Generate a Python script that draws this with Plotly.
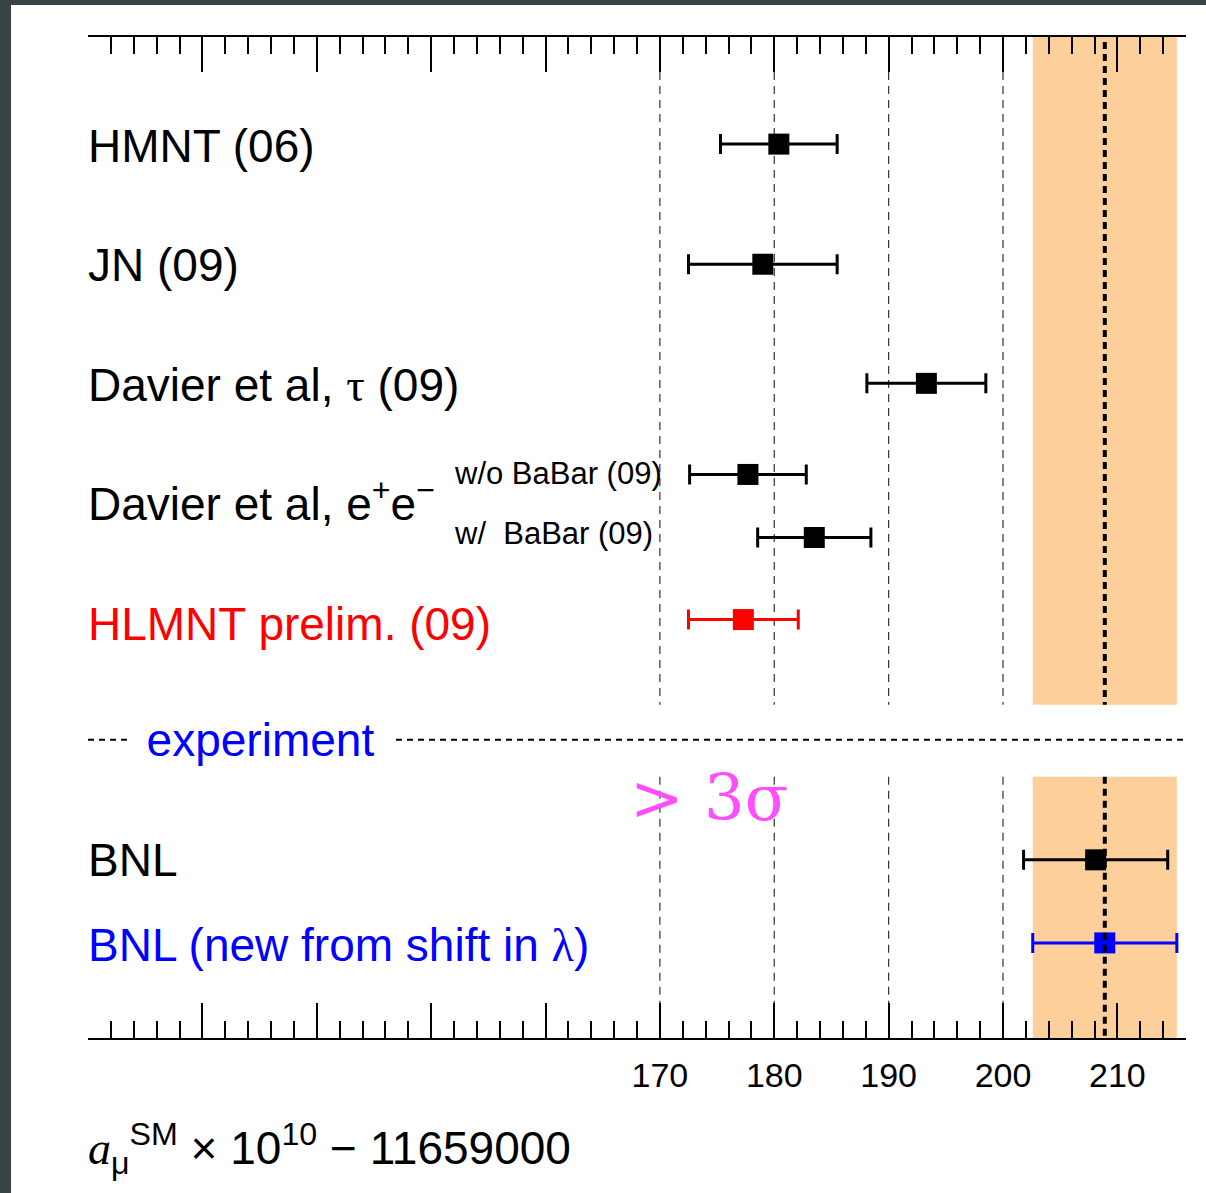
import plotly.graph_objects as go

# ---------------- data ----------------
labels = ["HMNT (06)", "JN (09)", "Davier et al, τ (09)", "w/o BaBar (09)",
          "w/  BaBar (09)", "HLMNT prelim. (09)", "BNL", "BNL (new from shift in λ)"]
values = [180.4, 179.0, 193.3, 177.7, 183.5, 177.3, 208.1, 208.9]
errors = [5.1, 6.5, 5.2, 5.1, 4.95, 4.8, 6.3, 6.3]
rows = [1.07, 2.27, 3.46, 4.37, 5.00, 5.82, 8.22, 9.05]
colors = ["black", "black", "black", "black", "black", "#ff0000", "black", "#0000ff"]

band_center = 208.9
band_err = 6.3
grid_vals = [170, 180, 190, 200]
major_ticks = [120, 130, 140, 150, 160, 170, 180, 190, 200, 210]
tick_text = ["", "", "", "", "", "170", "180", "190", "200", "210"]
x_range = [120, 216]

FONT = "Liberation Sans, Arial, Helvetica, sans-serif"
SERIF = "Liberation Serif, Times New Roman, serif"

fig = go.Figure()

for v, e, r, c in zip(values, errors, rows, colors):
    fig.add_trace(go.Scatter(
        x=[v], y=[r], mode="markers",
        marker=dict(symbol="square", size=21, color=c, line=dict(width=0)),
        error_x=dict(type="data", array=[e], visible=True, color=c,
                     thickness=3, width=10),
        showlegend=False, hoverinfo="skip"))

shapes = []
# white page over dark frame
shapes.append(dict(type="rect", xref="paper", yref="paper", x0=-0.0701, x1=1.05,
                   y0=-0.2, y1=1.032, fillcolor="white", line=dict(width=0),
                   layer="below"))
# orange bands
for y0, y1 in [(0, 6.67), (7.39, 10)]:
    shapes.append(dict(type="rect", xref="x", yref="y",
                       x0=band_center - band_err, x1=band_center + band_err,
                       y0=y0, y1=y1, fillcolor="#fdcf9b", line=dict(width=0),
                       layer="below"))
# dashed grid lines in two sections
for g in grid_vals:
    for y0, y1 in [(0.35, 6.67), (7.39, 9.65)]:
        shapes.append(dict(type="line", xref="x", yref="y", x0=g, x1=g,
                           y0=y0, y1=y1,
                           line=dict(color="#333333", width=1.2, dash="8px,6px"),
                           layer="below"))
# central dotted line of the band (two sections)
for y0, y1 in [(0.05, 6.67), (7.39, 10)]:
    shapes.append(dict(type="line", xref="x", yref="y", x0=band_center, x1=band_center,
                       y0=y0, y1=y1, line=dict(color="black", width=4, dash="7px,5px")))
# experiment separator line
shapes.append(dict(type="line", xref="paper", yref="y", x0=0, x1=1, y0=7.02, y1=7.02,
                   line=dict(color="black", width=2, dash="6px,5px")))
fig.update_layout(shapes=shapes)

ann = []
LX = -0.002
def label(text, y, size=46, color="black", x=LX, family=FONT):
    ann.append(dict(text=text, xref="paper", yref="y", x=x, y=y, xanchor="left",
                    yanchor="middle", showarrow=False,
                    font=dict(size=size, color=color, family=family)))

label("HMNT (06)", 1.09)
label("JN (09)", 2.28)
label("Davier et al, <span style='font-family:Liberation Serif'>τ</span> (09)", 3.48)
label("Davier et al, e<sup>+</sup>e<sup>−</sup>", 4.64)
label(labels[3], 4.36, size=31, x=(452 - 88) / 1098)
label(labels[4], 4.96, size=31, x=(452 - 88) / 1098)
label("HLMNT prelim. (09)", 5.86, color="#ff0000")
label("BNL", 8.22)
label("BNL (new from shift in <span style='font-family:Liberation Serif'>λ</span>)", 9.07,
      color="#0000ff")
# experiment text with white background breaking the dashed line
ann.append(dict(text="experiment", xref="paper", yref="y", x=(260 - 88) / 1098, y=7.02,
                xanchor="center", yanchor="middle", showarrow=False, bgcolor="white",
                width=265, borderpad=0,
                font=dict(size=46, color="#0000ff", family=FONT)))
# > 3 sigma
ann.append(dict(text="> 3σ", xref="paper", yref="y", x=(628 - 88) / 1098, y=7.60,
                xanchor="left", yanchor="middle", showarrow=False,
                font=dict(size=64, color="#ff4dff", family="DejaVu Serif, serif")))
# axis title
ann.append(dict(text="<span style='font-family:Liberation Serif'><i>a</i></span>"
                     "<sub>μ</sub><sup>SM</sup> × 10<sup>10</sup> − 11659000",
                xref="paper", yref="paper", x=LX, y=-0.11, xanchor="left",
                yanchor="middle", showarrow=False,
                font=dict(size=46, color="black", family=FONT)))
fig.update_layout(annotations=ann)

fig.update_xaxes(range=x_range, showgrid=False, zeroline=False,
                 showline=True, linecolor="black", linewidth=2, mirror="ticks",
                 ticks="inside", ticklen=35, tickwidth=2, tickcolor="black",
                 tickvals=major_ticks, ticktext=tick_text,
                 tickfont=dict(size=34, color="black", family=FONT),
                 ticklabelstandoff=6,
                 minor=dict(dtick=2, tick0=120, ticks="inside", ticklen=17,
                            tickwidth=2, tickcolor="black", showgrid=False))
fig.update_yaxes(range=[10, 0], visible=False, showgrid=False, zeroline=False)

fig.update_layout(width=1206, height=1193,
                  margin=dict(l=88, r=20, t=37, b=155),
                  paper_bgcolor="#3a4447", plot_bgcolor="rgba(0,0,0,0)",
                  font=dict(family=FONT))

fig.write_html("out.html")
